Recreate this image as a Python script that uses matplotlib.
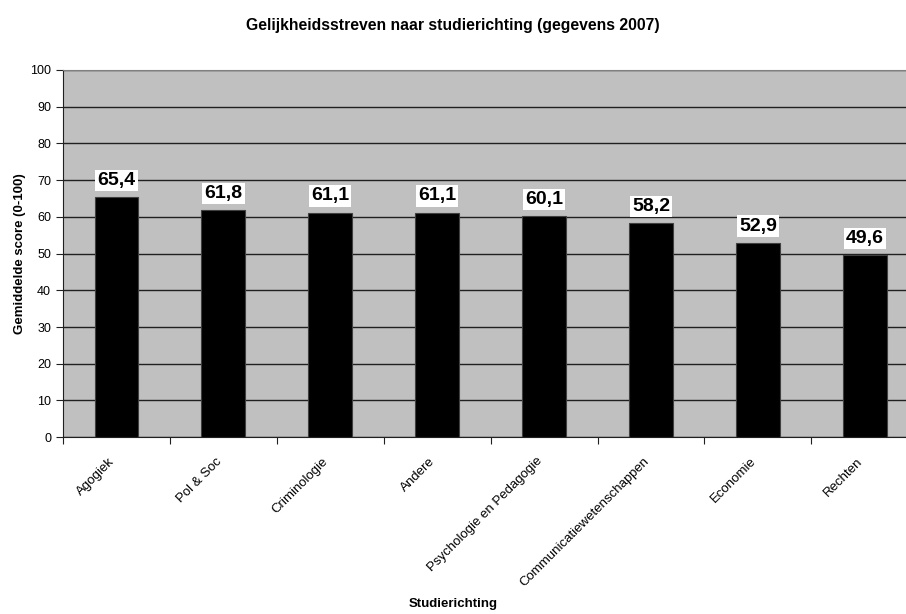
import matplotlib.pyplot as plt
import matplotlib.transforms as mtransforms
import numpy as np

plt.rcParams['font.family'] = ['Liberation Sans', 'DejaVu Sans']

# Data
categories = ['Agogiek', 'Pol & Soc', 'Criminologie', 'Andere', 'Psychologie en Pedagogie',
              'Communicatiewetenschappen', 'Economie', 'Rechten']
scores = [65.4, 61.8, 61.1, 61.1, 60.1, 58.2, 52.9, 49.6]
score_labels = ['65,4', '61,8', '61,1', '61,1', '60,1', '58,2', '52,9', '49,6']

fig = plt.figure(figsize=(9.06, 6.14), dpi=100)
ax = fig.add_axes([0.0695, 0.288, 0.944, 0.598])
ax.set_facecolor('#c0c0c0')

x = np.arange(len(categories))
ax.bar(x, scores, width=0.41, color='black', edgecolor='#404040', linewidth=0.8, zorder=3)

# value labels on white boxes
for xi, v, lab in zip(x, scores, score_labels):
    ax.annotate(lab, (xi, v), xytext=(0, 6), textcoords='offset points',
                ha='center', va='bottom', fontsize=14, fontweight='bold',
                bbox=dict(facecolor='white', edgecolor='none', pad=1.5), zorder=4)

ax.set_xlim(-0.5, len(categories) - 0.5)
ax.set_ylim(0, 100)
ax.set_yticks(range(0, 101, 10))
ax.yaxis.grid(True, color='#202020', linewidth=1.0, zorder=1)
ax.tick_params(axis='y', labelsize=9, length=5, width=0.8, color='#202020')

ax.set_xticks(x)
ax.set_xticklabels(categories, rotation=45, ha='right', rotation_mode='anchor', fontsize=9.5)
ax.set_xticks(np.arange(-0.5, len(categories), 1), minor=True)
ax.tick_params(axis='x', which='major', length=0, pad=13)
ax.tick_params(axis='x', which='minor', length=5, width=0.8, color='#202020')
shift = mtransforms.ScaledTranslation(-8 / 100, 0, fig.dpi_scale_trans)
for t in ax.get_xticklabels():
    t.set_transform(t.get_transform() + shift)

for side in ['top', 'right']:
    ax.spines[side].set_color('#808080')
ax.spines['left'].set_color('#202020')
ax.spines['bottom'].set_color('#202020')

ax.set_ylabel('Gemiddelde score (0-100)', fontsize=9.5, fontweight='bold', labelpad=3)
fig.text(0.5, 0.016, 'Studierichting', ha='center', va='center', fontsize=9.5, fontweight='bold')
fig.text(0.5, 0.959, 'Gelijkheidsstreven naar studierichting (gegevens 2007)',
         ha='center', va='center', fontsize=11.3, fontweight='bold')

fig.savefig('out.png', dpi=100)
